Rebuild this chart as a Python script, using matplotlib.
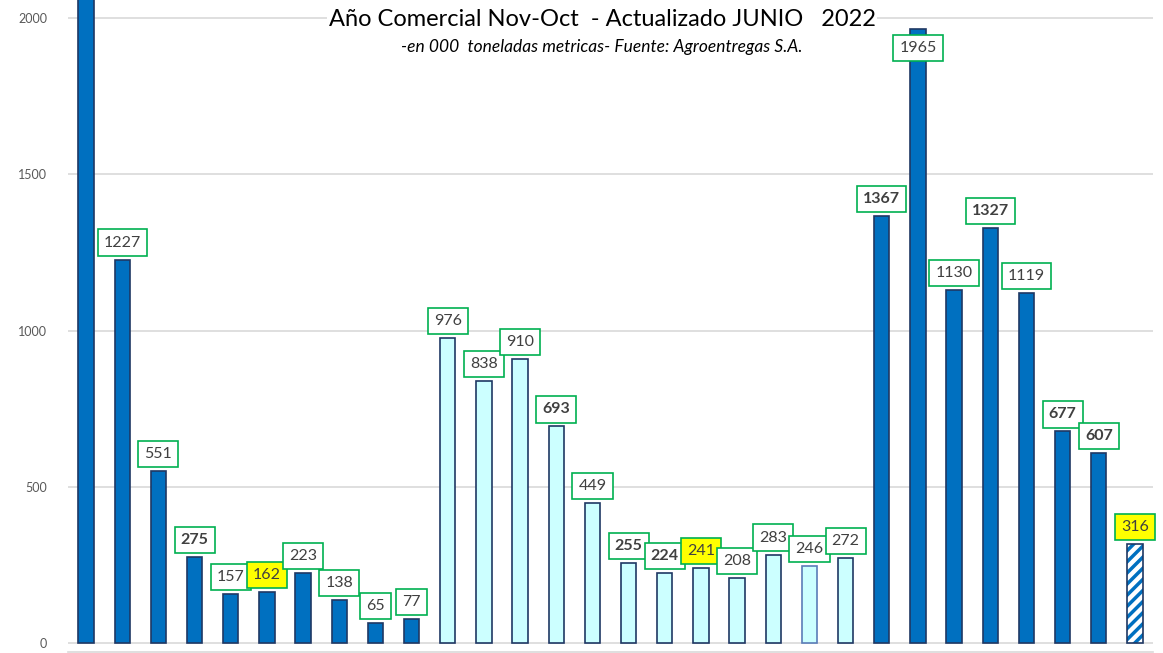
import matplotlib
matplotlib.use("Agg")
import matplotlib.pyplot as plt
import numpy as np

# ---- data ----
values = [2600, 1227, 551, 275, 157, 162, 223, 138, 65, 77,
          976, 838, 910, 693, 449, 255, 224, 241, 208, 283,
          246, 272, 1367, 1965, 1130, 1327, 1119, 677, 607, 316]
# bar style: 'd' dark blue, 'l' light cyan, 'm' light cyan w/ soft edge, 'h' hatched
styles = ['d'] * 10 + ['l'] * 10 + ['m', 'l'] + ['d'] * 7 + ['h']
bold_labels = [275, 693, 255, 224, 1367, 1327, 677, 607]
yellow_labels = [162, 241, 316]
yticks = [0, 500, 1000, 1500, 2000]
title = "Año Comercial Nov-Oct  - Actualizado JUNIO   2022"
subtitle = "-en 000  toneladas metricas- Fuente: Agroentregas S.A."

plt.rcParams['font.family'] = ['Lato', 'DejaVu Sans']

W, H = 1163, 653
fig = plt.figure(figsize=(W / 100, H / 100), dpi=100)
ax = fig.add_axes([68 / W, 1 / H, (1153 - 68) / W, 652 / H])

x = np.arange(len(values))
navy = '#1F3864'
dark = '#0070C0'
light = '#CCFFFF'

for xi, v, s in zip(x, values, styles):
    if s == 'd':
        ax.bar(xi, v, width=0.42, color=dark, edgecolor=navy, linewidth=1.2, zorder=3)
    elif s == 'l':
        ax.bar(xi, v, width=0.42, color=light, edgecolor=navy, linewidth=1.2, zorder=3)
    elif s == 'm':
        ax.bar(xi, v, width=0.42, color=light, edgecolor='#5A7DB8', linewidth=1.2, zorder=3)
    else:
        plt.rcParams['hatch.linewidth'] = 2.5
        ax.bar(xi, v, width=0.42, color='white', edgecolor=dark, hatch='///',
               linewidth=0, zorder=3)
        ax.bar(xi, v, width=0.42, color='none', edgecolor=navy, linewidth=1.2, zorder=4)

for xi, v in zip(x, values):
    off = 17 if v < 1900 else -19
    ax.annotate(str(v), xy=(xi, v), xytext=(0, off), textcoords='offset pixels',
                ha='center', va='center', fontsize=11.5,
                fontweight='bold' if v in bold_labels else 'normal',
                color='#404040', zorder=6,
                bbox=dict(boxstyle='square,pad=0.38',
                          facecolor='#FFFF00' if v in yellow_labels else 'white',
                          edgecolor='#00B050', linewidth=1.2))

ax.set_xlim(-0.5, len(values) - 0.5)
ax.set_ylim(-28.8, 2057.6)
ax.set_yticks(yticks)
ax.set_yticklabels([str(t) for t in yticks], fontsize=9, color='#595959')
ax.tick_params(axis='y', length=0, pad=15)
ax.set_xticks([])
ax.grid(axis='y', color='#D9D9D9', linewidth=1.2, zorder=0)
for sp in ['top', 'right', 'left']:
    ax.spines[sp].set_visible(False)
ax.spines['bottom'].set_color('#D9D9D9')
ax.spines['bottom'].set_linewidth(1.2)

fig.text(602 / W, 1 - 19 / H, title, ha='center', va='center', fontsize=17,
         color='black', zorder=10,
         bbox=dict(facecolor='white', edgecolor='none', pad=1))
fig.text(602 / W, 1 - 47 / H, subtitle, ha='center', va='center', fontsize=12.5,
         style='italic', color='black')

fig.savefig('out.png', dpi=100)
